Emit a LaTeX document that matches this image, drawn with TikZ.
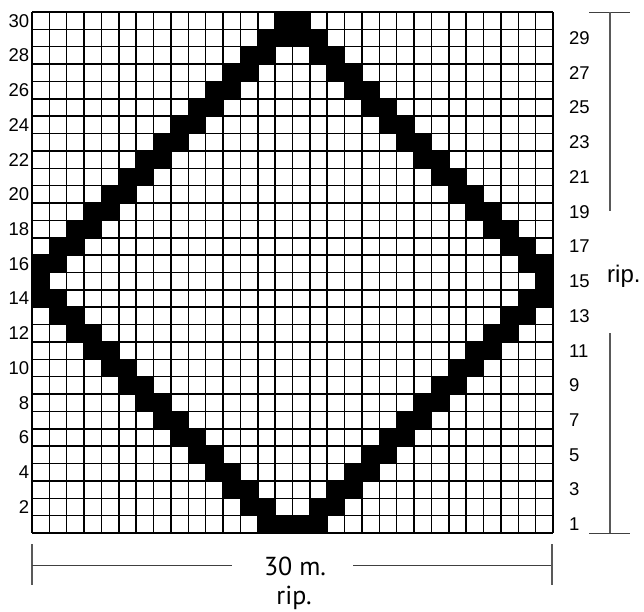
\documentclass[tikz,border=0pt]{standalone}
\usepackage{fontspec}
\setmainfont{Liberation Sans}
\newfontfamily\dimfont{PT Sans}
\begin{document}
\begin{tikzpicture}[x=1pt,y=-1pt,
  gridline/.style={line width=1.5pt,black},
  cellfill/.style={fill=black},
  numlab/.style={font=\fontsize{18.5}{20}\selectfont,inner sep=0pt},
  dimline/.style={line width=1pt,black!75},
  dimtick/.style={line width=1.2pt,black!65},
  dimlab/.style={font=\dimfont\fontsize{26}{28}\selectfont,inner sep=0pt,anchor=base},
  riplab/.style={font=\fontsize{24}{26}\selectfont,inner sep=0pt,anchor=base west}]
\useasboundingbox (0,0) rectangle (644,611);
\fill[white] (0,0) rectangle (644,611);
% grid
\begin{scope}[xshift=32pt,yshift=-12pt,x=17.367pt,y=-17.367pt]
  \foreach \r in {1,...,30}{
    \pgfmathtruncatemacro\k{abs(\r-15)}
    \pgfmathtruncatemacro\t{30-\r}
    \foreach \c in {\k,\numexpr\k+1\relax}{
      \pgfmathtruncatemacro\cc{\c}
      \ifnum\cc>0
        \pgfmathtruncatemacro\mc{31-\cc}
        \fill[cellfill] (\cc-1,\t) rectangle (\cc,\t+1);
        \fill[cellfill] (\mc-1,\t) rectangle (\mc,\t+1);
      \fi
    }
  }
  \foreach \i in {0,...,30}{
    \draw[gridline] (\i,0) -- (\i,30);
    \draw[gridline] (0,\i) -- (30,\i);
  }
  \foreach \r in {2,4,...,30}{
    \pgfmathsetmacro\yy{30-\r+0.5}
    \node[numlab,anchor=east] (l\r) at (-0.15,\yy) {\r};
  }
  \foreach \r in {1,3,...,29}{
    \pgfmathsetmacro\yy{30-\r+0.5}
    \node[numlab,anchor=west] (r\r) at (30.92,\yy) {\r};
  }
\end{scope}
% right dimension bars
\coordinate (tt1) at (589,12);
\coordinate (tt2) at (630,12);
\coordinate (tv1) at (610,12);
\coordinate (tv2) at (610,211);
\coordinate (bv1) at (610,333);
\coordinate (bv2) at (610,533);
\coordinate (bt1) at (589,533);
\coordinate (bt2) at (630,533);
\draw[dimline] (tt1) -- (tt2);
\draw[dimtick] (tv1) -- (tv2);
\draw[dimtick] (bv1) -- (bv2);
\draw[dimline] (bt1) -- (bt2);
\node[riplab] (ripr) at (607,282) {rip.};
% bottom dimension
\node[dimlab] (w) at (295,575) {30 m.};
\node[dimlab] (ripb) at (294,604) {rip.};
\coordinate (lv1) at (32,544);
\coordinate (lv2) at (32,585);
\coordinate (lh1) at (32,565);
\coordinate (lh2) at (232,565);
\coordinate (rh1) at (353,565);
\coordinate (rh2) at (552,565);
\coordinate (rv1) at (552,544);
\coordinate (rv2) at (552,585);
\draw[dimtick] (lv1) -- (lv2);
\draw[dimline] (lh1) -- (lh2);
\draw[dimline] (rh1) -- (rh2);
\draw[dimtick] (rv1) -- (rv2);
\end{tikzpicture}
\end{document}
